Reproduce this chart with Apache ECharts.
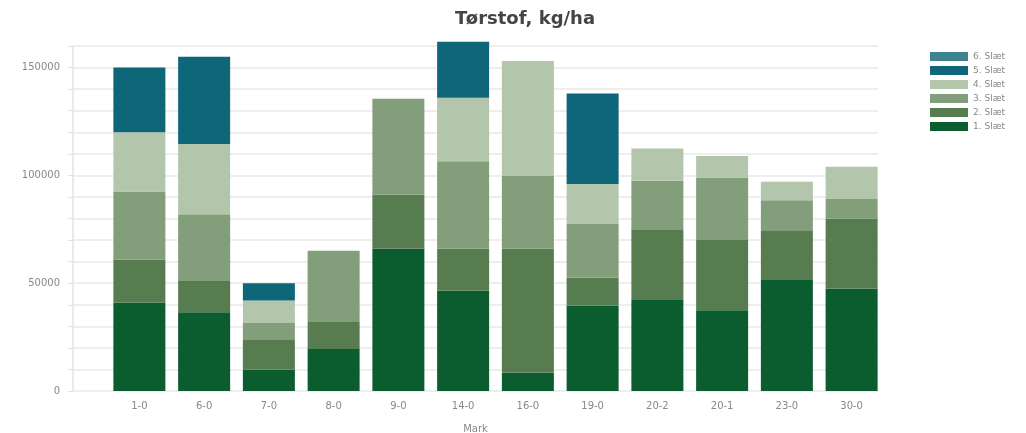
<!DOCTYPE html>
<html>
<head>
<meta charset="utf-8">
<script src="https://cdn.jsdelivr.net/npm/echarts@6/dist/echarts.min.js"></script>
<style>
html, body { margin: 0; padding: 0; background: #fff; }
#chart { width: 1026px; height: 433px; }
</style>
</head>
<body>
<div id="chart"></div>
<script>
const fields = ['1-0', '6-0', '7-0', '8-0', '9-0', '14-0', '16-0', '19-0', '20-2', '20-1', '23-0', '30-0'];
const cut1 = [41000, 36500, 10000, 19500, 66000, 46500, 8500, 39500, 42500, 37500, 51500, 47500];
const cut2 = [20000, 14500, 14000, 12500, 25000, 19500, 57500, 13000, 32500, 32500, 23000, 32500];
const cut3 = [31500, 31000, 7500, 33000, 44500, 40500, 34000, 25000, 22500, 29000, 14000, 9000];
const cut4 = [27500, 32500, 10500, 0, 0, 29500, 53000, 18500, 15000, 10000, 8500, 15000];
const cut5 = [30000, 40500, 8000, 0, 0, 26000, 0, 42000, 0, 0, 0, 0];
const cut6 = [0, 0, 0, 0, 0, 0, 0, 0, 0, 0, 0, 0];
const cutNames = ['1. Slæt', '2. Slæt', '3. Slæt', '4. Slæt', '5. Slæt', '6. Slæt'];
const cutColors = ['#0b5c2f', '#567c50', '#829e7b', '#b3c6ac', '#0e6679', '#3d8390'];

const chart = echarts.init(document.getElementById('chart'));
const cuts = [cut1, cut2, cut3, cut4, cut5, cut6];

const option = {
  textStyle: { fontFamily: 'DejaVu Sans, Verdana, sans-serif' },
  title: {
    text: 'Tørstof, kg/ha',
    left: 520,
    textAlign: 'center',
    top: 5,
    textStyle: { fontSize: 18, fontWeight: 'bold', color: '#444', fontFamily: 'DejaVu Sans' }
  },
  legend: {
    orient: 'vertical',
    left: 925,
    top: 47,
    itemWidth: 38,
    itemHeight: 9,
    itemGap: 5,
    icon: 'rect',
    data: cutNames.slice().reverse(),
    textStyle: { fontSize: 9, color: '#888' }
  },
  grid: [
    { left: 73, right: 148, top: 46, bottom: 42, outerBoundsMode: 'none' },
    { left: 107, right: 142, top: 46, bottom: 42, outerBoundsMode: 'none' }
  ],
  xAxis: [
    {
      gridIndex: 0,
      type: 'value',
      min: 0,
      max: 1,
      axisLine: { show: false },
      axisTick: { show: false },
      axisLabel: { show: false },
      splitLine: { show: false },
      name: 'Mark',
      nameLocation: 'middle',
      nameGap: 33,
      nameTextStyle: { fontSize: 10, color: '#888' }
    },
    {
      gridIndex: 1,
      type: 'category',
      data: fields,
      axisLine: { show: false },
      axisTick: { show: false },
      axisLabel: { fontSize: 10, color: '#888', margin: 10 }
    }
  ],
  yAxis: [
    {
      gridIndex: 0,
      type: 'value',
      min: 0,
      max: 160000,
      interval: 10000,
      axisLine: { show: true, lineStyle: { color: '#e2e2e2', width: 1.5 } },
      axisTick: { show: true, length: 5, lineStyle: { color: '#e2e2e2' } },
      axisLabel: {
        fontSize: 10,
        color: '#888',
        margin: 13,
        formatter: v => (v % 50000 === 0 ? String(v) : '')
      },
      splitLine: { lineStyle: { color: '#e9e9e9', width: 1.5 } }
    },
    {
      gridIndex: 1,
      type: 'value',
      min: 0,
      max: 160000,
      show: false,
      splitLine: { show: false }
    }
  ],
  series: cuts.map((vals, i) => ({
    name: cutNames[i],
    type: 'bar',
    stack: 'total',
    xAxisIndex: 1,
    yAxisIndex: 1,
    barWidth: 52,
    clip: false,
    itemStyle: { color: cutColors[i] },
    data: vals
  }))
};
chart.setOption(option);
</script>
</body>
</html>
